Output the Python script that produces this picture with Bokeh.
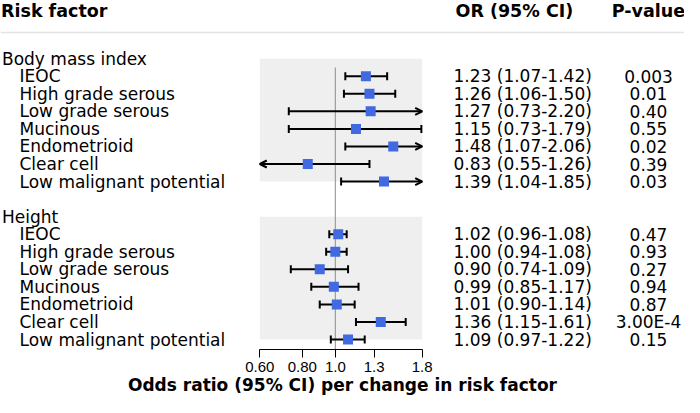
import math
from bokeh.plotting import figure
from bokeh.models import (Range1d, LinearScale, FixedTicker, Whisker, TeeHead,
                          OpenHead, ColumnDataSource)
from bokeh.core.properties import value
from bokeh.embed import file_html
from bokeh.resources import INLINE

# ---------------- data ----------------
groups = ["Body mass index", "Height"]
subtypes = ["IEOC", "High grade serous", "Low grade serous", "Mucinous",
            "Endometrioid", "Clear cell", "Low malignant potential"]

bmi_or = [1.23, 1.26, 1.27, 1.15, 1.48, 0.83, 1.39]
bmi_lo = [1.07, 1.06, 0.73, 0.73, 1.07, 0.55, 1.04]
bmi_hi = [1.42, 1.50, 2.20, 1.79, 2.06, 1.26, 1.85]
bmi_p = ["0.003", "0.01", "0.40", "0.55", "0.02", "0.39", "0.03"]

height_or = [1.02, 1.00, 0.90, 0.99, 1.01, 1.36, 1.09]
height_lo = [0.96, 0.94, 0.74, 0.85, 0.90, 1.15, 0.97]
height_hi = [1.08, 1.08, 1.09, 1.17, 1.14, 1.61, 1.22]
height_p = ["0.47", "0.93", "0.27", "0.94", "0.87", "3.00E-4", "0.15"]

ticks = [0.6, 0.8, 1.0, 1.3, 1.8]
tick_labels = ["0.60", "0.80", "1.0", "1.3", "1.8"]
ref_or = 1.0

col_headers = ["Risk factor", "OR (95% CI)", "P-value"]
x_title = "Odds ratio (95% CI) per change in risk factor"

# ---------------- layout (pixels in figure) ----------------
W, H = 684, 397
AXIS_H = 48
frame_h = H - AXIS_H
row0_px = 58.2
row_step = 17.55
x_lo_px, x_hi_px = 259.3, 421.7
group_px = 1.5
indent_px = 19
or_col_px = 453
p_col_px = 648

lo_t, hi_t = ticks[0], ticks[-1]
k = (x_hi_px - x_lo_px) / math.log(hi_t / lo_t)
x_start = lo_t * math.exp(-x_lo_px / k)
x_end = hi_t * math.exp((W - x_hi_px) / k)


def prow(px):
    return (px - row0_px) / row_step


y_top = prow(0)
y_bot = prow(frame_h)

p = figure(width=W, height=H, x_axis_type="log",
           x_range=Range1d(x_start, x_end), y_range=Range1d(y_bot, y_top),
           output_backend="svg", toolbar_location=None, y_axis_location=None,
           min_border_left=0, min_border_right=0, min_border_top=0,
           min_border_bottom=AXIS_H)
p.extra_x_ranges = {"px": Range1d(0, W)}
p.extra_x_scales = {"px": LinearScale()}
p.grid.visible = False
p.outline_line_color = None
p.background_fill_color = "white"
p.border_fill_color = "white"

# ---------------- build rows ----------------
sections = [
    (groups[0], bmi_or, bmi_lo, bmi_hi, bmi_p),
    (groups[1], height_or, height_lo, height_hi, height_p),
]

lab_x, lab_y, lab_t = [], [], []
or_y, or_t, p_y, p_t = [], [], [], []
pt_or, pt_y = [], []
wh = {}
panel_top, panel_bot = [], []

for s, (gname, ors, los, his, ps) in enumerate(sections):
    head = s * (len(subtypes) + 2)
    lab_x.append(group_px); lab_y.append(head); lab_t.append(gname)
    panel_top.append(head)
    panel_bot.append(head + len(subtypes))
    for i, name in enumerate(subtypes):
        r = head + 1 + i
        lab_x.append(indent_px); lab_y.append(r); lab_t.append(name)
        or_y.append(r)
        or_t.append(f"{ors[i]:.2f} ({los[i]:.2f}-{his[i]:.2f})")
        p_y.append(r); p_t.append(ps[i])
        pt_or.append(ors[i]); pt_y.append(r)
        lc = los[i] < lo_t
        uc = his[i] > hi_t
        d = wh.setdefault((lc, uc), {"base": [], "lower": [], "upper": []})
        d["base"].append(r)
        d["lower"].append(max(los[i], lo_t))
        d["upper"].append(min(his[i], hi_t))

# grey panels (drawn first, lowest level)
p.quad(left=[lo_t] * len(panel_top), right=[hi_t] * len(panel_top),
       top=panel_top, bottom=panel_bot, fill_color="#efefef", line_color=None,
       level="image")

# reference line at OR = 1
p.segment(x0=[ref_or], x1=[ref_or], y0=[0.5], y1=[y_bot],
          line_color="#8c8c8c", line_width=1, level="image")

# confidence intervals
for (lc, uc), d in wh.items():
    lh = OpenHead(size=7, line_width=2, line_color="black") if lc else \
        TeeHead(size=8, line_width=2, line_color="black")
    uh = OpenHead(size=7, line_width=2, line_color="black") if uc else \
        TeeHead(size=8, line_width=2, line_color="black")
    w = Whisker(base="base", lower="lower", upper="upper", dimension="width",
                source=ColumnDataSource(d), line_width=2, line_color="black",
                lower_head=lh, upper_head=uh, level="underlay")
    p.add_layout(w)

# point estimates
p.scatter(x=pt_or, y=pt_y, marker="square", size=10,
          fill_color="#4169e1", line_color=None)

# texts
font = value("DejaVu Sans")
p.text(x=lab_x, y=lab_y, text=lab_t, x_range_name="px", text_font=font,
       text_font_size="17px", text_baseline="middle", text_align="left",
       text_color="black")
p.text(x=[or_col_px] * len(or_t), y=or_y, text=or_t, x_range_name="px",
       text_font=font, text_font_size="17px", text_baseline="middle",
       text_align="left", text_color="black")
p.text(x=[p_col_px] * len(p_t), y=p_y, text=p_t, x_range_name="px",
       text_font=font, text_font_size="17px", text_baseline="middle",
       text_align="center", text_color="black")

# column headers
hy = prow(10.5)
p.text(x=[0.5, or_col_px + 2], y=[hy, hy], text=col_headers[:2],
       x_range_name="px", text_font=font, text_font_size="17.5px",
       text_font_style="bold", text_baseline="middle", text_align="left",
       text_color="black")
p.text(x=[p_col_px], y=[hy], text=col_headers[2:], x_range_name="px",
       text_font=font, text_font_size="17.5px", text_font_style="bold",
       text_baseline="middle", text_align="center", text_color="black")
sep = prow(32)
p.segment(x0=[0], x1=[W], y0=[sep], y1=[sep], x_range_name="px",
          line_color="#e4e4e4", line_width=1.5)

# x axis
ax = p.xaxis[0]
ax.ticker = FixedTicker(ticks=ticks)
ax.major_label_overrides = {t: l for t, l in zip(ticks, tick_labels)}
ax.bounds = (lo_t, hi_t)
ax.minor_tick_line_color = None
ax.major_tick_in = 0
ax.major_tick_out = 8
ax.axis_line_color = "black"
ax.major_tick_line_color = "black"
ax.major_label_text_font = "Liberation Sans"
ax.major_label_text_font_size = "15px"
ax.major_label_text_color = "black"
ax.major_label_standoff = 4
ax.axis_label = x_title
ax.axis_label_text_font = "DejaVu Sans"
ax.axis_label_text_font_size = "17px"
ax.axis_label_text_font_style = "bold"
ax.axis_label_text_color = "black"
ax.axis_label_standoff = 0

open("out.html", "w").write(file_html(p, INLINE))
